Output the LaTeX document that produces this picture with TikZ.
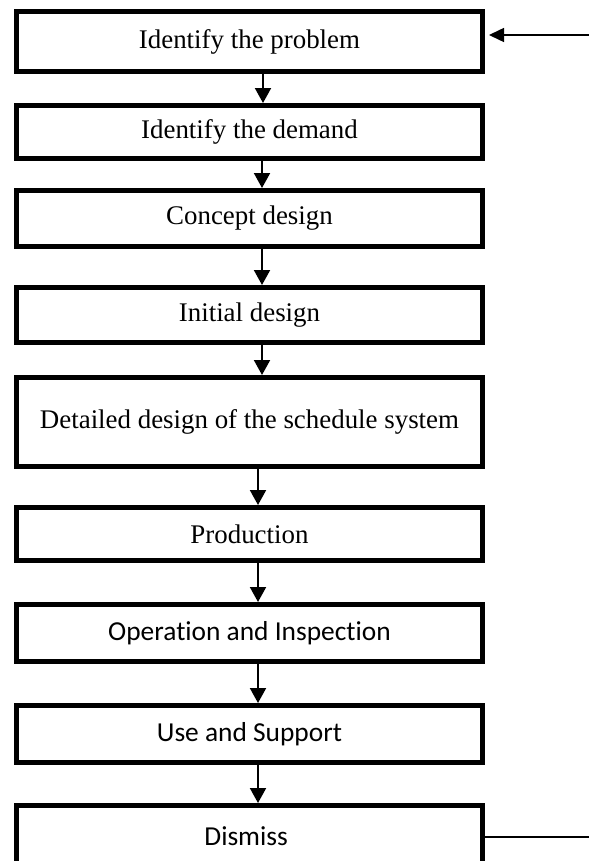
\documentclass[tikz,border=0pt]{standalone}
\usepackage{fontspec}
\setmainfont{Liberation Serif}
\newfontfamily\calibri[Ligatures=NoCommon]{Carlito}
\usetikzlibrary{arrows.meta, calc, positioning}

\tikzset{
  stage/.style={draw, line width=5bp, inner sep=0pt, minimum width=466bp,
                align=center, font=\fontsize{27}{30}\selectfont},
  flow/.style={line width=2bp, -{Triangle[width=16bp,length=15bp]}},
  feedback/.style={line width=1.5bp},
}

\begin{document}
\begin{tikzpicture}[x=1bp,y=-1bp]
\useasboundingbox (0,0) rectangle (589,861);

% The stages, top to bottom
    \foreach \n/\y/\h/\A in {1/41.5/60/{Identify the problem},
                             2/132/53/{Identify the demand},
                             3/218.5/56/{Concept design},
                             4/315/55/{Initial design},
                             5/422/89/{Detailed design of the schedule system},
                             6/534/53/{Production},
                             7/633/57/{\calibri\fontsize{27.5}{30}\selectfont Operation and Inspection},
                             8/734/57/{\calibri\fontsize{27.5}{30}\selectfont Use and Support},
                             9/836.5/62/{\calibri\fontsize{27.5}{30}\selectfont Dismiss}
                             } {
        \node[stage, minimum height=\h bp] (s\n) at (249.5,\y) {\A};
    };

% Arrows between the stages, a bit right of the middle
    \foreach \a/\b/\dx in {1/2/13.5, 2/3/12.5, 3/4/12.5, 4/5/12.5,
                           5/6/8.5, 6/7/8.5, 7/8/8.5, 8/9/8.5} {
        \draw[flow] ([xshift=\dx bp]s\a.south) -- ([xshift=\dx bp]s\b.north);
    };

% The way back from the last stage to the first one
\coordinate (back) at (589,35);
\coordinate (out) at (589,837);
\draw[feedback, -{Triangle[width=14bp,length=15bp]}] (back) -- ([xshift=4bp]s1.east |- back);
\draw[feedback] (s9.east |- out) -- (out);
\end{tikzpicture}
\end{document}
